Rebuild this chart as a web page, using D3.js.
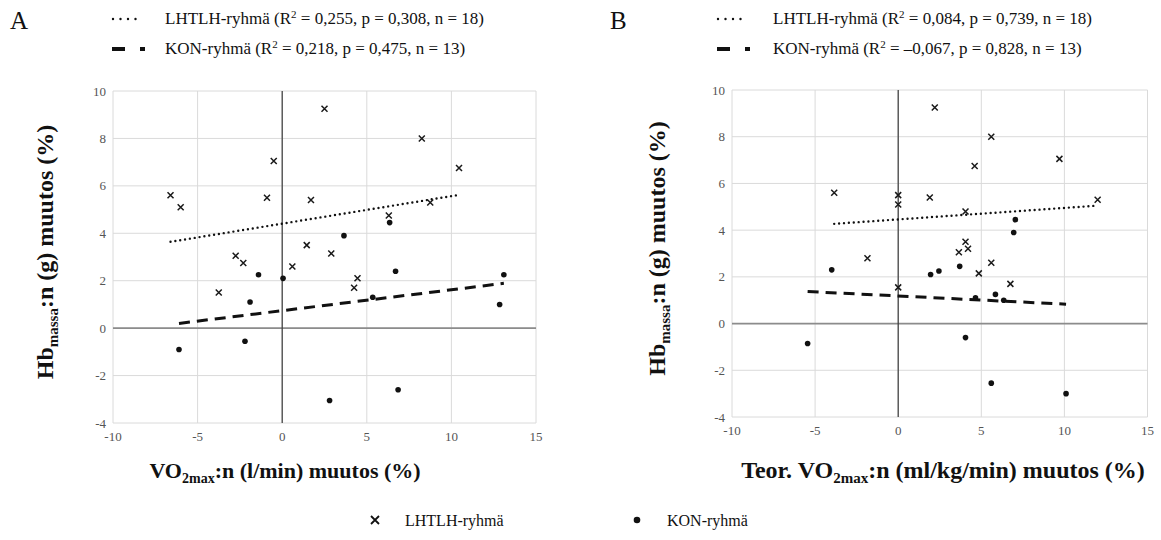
<!DOCTYPE html>
<html>
<head>
<meta charset="utf-8">
<script src="https://cdn.jsdelivr.net/npm/d3@7"></script>
<style>
  body { margin: 0; background: #fff; }
</style>
</head>
<body>
<svg id="chart" width="1161" height="540"></svg>
<script>
// tick values shared by both panels
const xTicks = [-10, -5, 0, 5, 10, 15];
const yTicks = [-4, -2, 0, 2, 4, 6, 8, 10];

// Panel A: VO2max (l/min) change vs Hb mass change
const lhtlhA = [[-6.6, 5.6], [-6.0, 5.1], [-0.5, 7.05], [-0.9, 5.5], [2.5, 9.25], [1.7, 5.4],
  [1.45, 3.5], [2.9, 3.15], [-2.75, 3.05], [8.25, 8.0], [10.45, 6.75], [8.75, 5.3],
  [6.3, 4.75], [-2.3, 2.75], [-3.75, 1.5], [0.6, 2.6], [4.45, 2.1], [4.25, 1.7]];
const konA = [[6.35, 4.45], [3.65, 3.9], [-1.4, 2.25], [0.05, 2.1], [-1.9, 1.1], [-6.1, -0.9],
  [-2.2, -0.55], [2.8, -3.05], [6.7, 2.4], [5.35, 1.3], [13.1, 2.25], [12.85, 1.0], [6.85, -2.6]];
const fitLhtlhA = [[-6.6, 3.64], [10.45, 5.62]];
const fitKonA = [[-6.1, 0.2], [13.1, 1.89]];

// Panel B: theoretical VO2max (ml/kg/min) change vs Hb mass change
const lhtlhB = [[-3.85, 5.6], [0, 5.5], [0, 5.1], [1.9, 5.4], [2.2, 9.25], [-1.85, 2.8],
  [5.6, 8.0], [4.6, 6.75], [9.7, 7.05], [12.0, 5.3], [4.05, 4.8], [4.05, 3.5], [4.2, 3.2],
  [3.65, 3.05], [4.85, 2.15], [5.6, 2.6], [6.75, 1.7], [0, 1.55]];
const konB = [[7.05, 4.45], [6.95, 3.9], [3.7, 2.45], [1.95, 2.1], [2.45, 2.25], [5.85, 1.25],
  [4.65, 1.1], [6.35, 1.0], [4.05, -0.6], [5.6, -2.55], [10.1, -3.0], [-4.0, 2.3], [-5.45, -0.85]];
const fitLhtlhB = [[-3.85, 4.27], [12.0, 5.05]];
const fitKonB = [[-5.45, 1.37], [10.1, 0.83]];

// legend texts
const legendA = { lhtlh: ["0,255", "0,308", "18"], kon: ["0,218", "0,475", "13"] };
const legendB = { lhtlh: ["0,084", "0,739", "18"], kon: ["\u20130,067", "0,828", "13"] };

const SERIF = "'Liberation Serif', 'Times New Roman', Tinos, 'DejaVu Serif', serif";

const svg = d3.select("#chart").attr("font-family", SERIF);

const panels = [
  { letter: "A", left: 113, right: 536, top: 91, bottom: 423, lhtlh: lhtlhA, kon: konA,
    fitL: fitLhtlhA, fitK: fitKonA, legend: legendA, letterX: 10, legX: 112, legTextX: 165,
    yTitleX: 45, xTitleX: 285, xTitleSize: 22, xTitle: ["VO", "2max", ":n (l/min) muutos (%)"] },
  { letter: "B", left: 732, right: 1147.5, top: 90, bottom: 417, lhtlh: lhtlhB, kon: konB,
    fitL: fitLhtlhB, fitK: fitKonB, legend: legendB, letterX: 610, legX: 717, legTextX: 773,
    yTitleX: 657, xTitleX: 943, xTitleSize: 24, xTitle: ["Teor. VO", "2max", ":n (ml/kg/min) muutos (%)"] }
];

panels.forEach(p => drawPanel(p));

function drawPanel(p) {
  const x = d3.scaleLinear().domain([-10, 15]).range([p.left, p.right]);
  const y = d3.scaleLinear().domain([-4, 10]).range([p.bottom, p.top]);
  const g = svg.append("g");

  // grid
  g.append("g").selectAll("line").data(xTicks).join("line")
    .attr("x1", d => x(d)).attr("x2", d => x(d))
    .attr("y1", p.top).attr("y2", p.bottom)
    .style("stroke", "#dadada").style("stroke-width", 1);
  g.append("g").selectAll("line").data(yTicks).join("line")
    .attr("x1", p.left).attr("x2", p.right)
    .attr("y1", d => y(d)).attr("y2", d => y(d))
    .style("stroke", "#dadada").style("stroke-width", 1);

  // zero axes
  g.append("line").attr("x1", p.left).attr("x2", p.right)
    .attr("y1", y(0)).attr("y2", y(0))
    .style("stroke", "#8c8c8c").style("stroke-width", 1.8);
  g.append("line").attr("x1", x(0)).attr("x2", x(0))
    .attr("y1", p.top).attr("y2", p.bottom)
    .style("stroke", "#3a3a3a").style("stroke-width", 1.2);

  // tick labels
  g.append("g").selectAll("text").data(yTicks).join("text")
    .attr("x", p.left - 7).attr("y", d => y(d)).attr("dy", "0.35em")
    .attr("text-anchor", "end").style("font-size", "13px").style("fill", "#555")
    .text(d => d);
  g.append("g").selectAll("text").data(xTicks).join("text")
    .attr("x", d => x(d)).attr("y", p.bottom + 13).attr("dy", "0.35em")
    .attr("text-anchor", "middle").style("font-size", "13px").style("fill", "#555")
    .text(d => d);

  // trend lines
  const line = d3.line().x(d => x(d[0])).y(d => y(d[1]));
  g.append("path").attr("d", line(p.fitL))
    .style("fill", "none").style("stroke", "#111").style("stroke-width", 2.4)
    .style("stroke-linecap", "round").style("stroke-dasharray", "0,4.9");
  g.append("path").attr("d", line(p.fitK))
    .style("fill", "none").style("stroke", "#111").style("stroke-width", 3)
    .style("stroke-dasharray", "11,7");

  // markers
  g.append("g").selectAll("path").data(p.lhtlh).join("path")
    .attr("transform", d => `translate(${x(d[0])},${y(d[1])})`)
    .attr("d", "M-3,-3L3,3M3,-3L-3,3")
    .style("stroke", "#1a1a1a").style("stroke-width", 1.5).style("fill", "none");
  g.append("g").selectAll("circle").data(p.kon).join("circle")
    .attr("cx", d => x(d[0])).attr("cy", d => y(d[1])).attr("r", 2.8)
    .style("fill", "#111");

  // panel letter
  svg.append("text").attr("x", p.letterX).attr("y", 29)
    .style("font-size", "25px").style("fill", "#111").text(p.letter);

  // legend
  svg.append("line").attr("x1", p.legX + 1).attr("x2", p.legX + 31).attr("y1", 19).attr("y2", 19)
    .style("stroke", "#111").style("stroke-width", 2.4).style("stroke-linecap", "round")
    .style("stroke-dasharray", "0,7.5");
  svg.append("line").attr("x1", p.legX).attr("x2", p.legX + 33).attr("y1", 49).attr("y2", 49)
    .style("stroke", "#111").style("stroke-width", 4).style("stroke-dasharray", "13,15");
  legendText(p.legTextX, 24, "LHTLH-ryhmä  (R", p.legend.lhtlh);
  legendText(p.legTextX, 54, "KON-ryhmä (R", p.legend.kon);

  // axis titles
  const xt = svg.append("text").attr("x", p.xTitleX).attr("y", 478)
    .attr("text-anchor", "middle").style("font-size", p.xTitleSize + "px").style("font-weight", "bold")
    .style("fill", "#111");
  xt.append("tspan").text(p.xTitle[0]);
  xt.append("tspan").attr("dy", 5).style("font-size", Math.round(p.xTitleSize * 0.64) + "px").text(p.xTitle[1]);
  xt.append("tspan").attr("dy", -5).text(p.xTitle[2]);

  const yt = svg.append("text")
    .attr("transform", `translate(${p.yTitleX},${(p.top + p.bottom) / 2 - 5}) rotate(-90)`)
    .attr("text-anchor", "middle").attr("dy", "0.35em")
    .style("font-size", "24px").style("font-weight", "bold").style("fill", "#111");
  yt.append("tspan").text("Hb");
  yt.append("tspan").attr("dy", 5).style("font-size", "15px").text("massa");
  yt.append("tspan").attr("dy", -5).text(":n (g) muutos (%)");
}

function legendText(x0, y0, label, vals) {
  const t = svg.append("text").attr("x", x0).attr("y", y0)
    .style("font-size", "17px").style("fill", "#111");
  t.append("tspan").text(label);
  t.append("tspan").attr("dy", -6).style("font-size", "11px").text("2");
  t.append("tspan").attr("dy", 6).text(` = ${vals[0]}, p = ${vals[1]}, n = ${vals[2]})`);
}

// bottom legend
const bottomLegend = [
  { label: "LHTLH-ryhmä", type: "cross", x: 375 },
  { label: "KON-ryhmä", type: "dot", x: 637 }
];
const bl = svg.append("g").selectAll("g").data(bottomLegend).join("g")
  .attr("transform", d => `translate(${d.x},520)`);
bl.filter(d => d.type === "cross").append("path")
  .attr("d", "M-4,-4L4,4M4,-4L-4,4").style("stroke", "#111").style("stroke-width", 1.8);
bl.filter(d => d.type === "dot").append("circle").attr("r", 3.3).style("fill", "#111");
bl.append("text").attr("x", 30).attr("dy", "0.35em")
  .style("font-size", "16px").style("fill", "#111").text(d => d.label);
</script>
</body>
</html>
